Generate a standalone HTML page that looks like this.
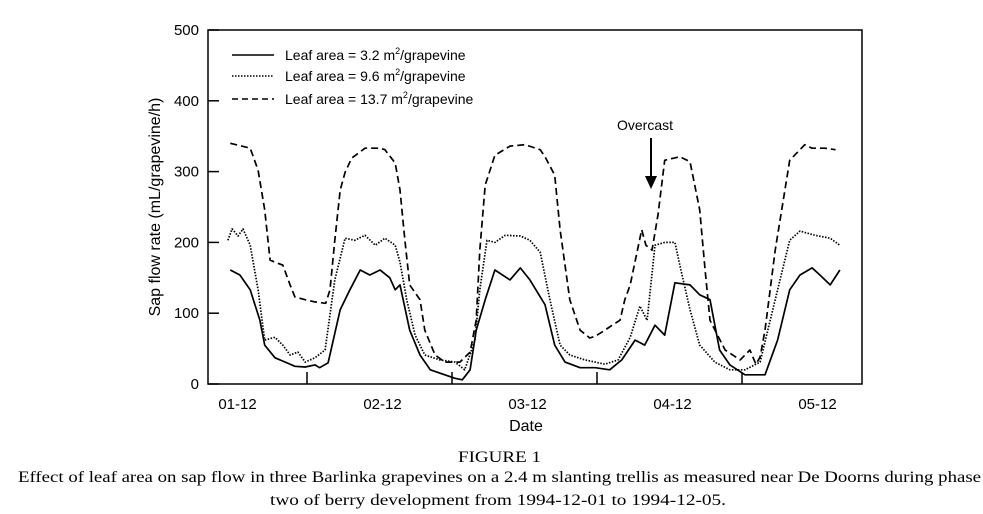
<!DOCTYPE html>
<html><head><meta charset="utf-8"><style>
body{margin:0;background:#fff;width:983px;height:514px;overflow:hidden}
svg{display:block}
.s{font-family:"Liberation Sans",sans-serif}
.c{font-family:"Liberation Serif",serif;font-size:16px}
</style></head><body>
<svg id="chart" width="983" height="514">
<rect x="208" y="30" width="654" height="354" fill="none" stroke="#000" stroke-width="1.5"/>
<g id="yaxis"></g>
<g id="xaxis"></g>
<g id="series"></g>
<text class="s" x="0" y="0" font-size="16" text-anchor="middle" transform="translate(160,207) rotate(-90)">Sap flow rate (mL/grapevine/h)</text>
<text class="s" x="526" y="431" font-size="16" text-anchor="middle">Date</text>
<g>
<g><line x1="232" y1="55" x2="274" y2="55" stroke="#000" stroke-width="1.6"/><text class="s" x="285" y="60" font-size="14">Leaf area = 3.2 m<tspan font-size="9" dy="-6">2</tspan><tspan dy="6">/grapevine</tspan></text></g>
<g><line x1="232" y1="76" x2="274" y2="76" stroke="#000" stroke-width="1.6" stroke-dasharray="1.5,1.5"/><text class="s" x="285" y="81" font-size="14">Leaf area = 9.6 m<tspan font-size="9" dy="-6">2</tspan><tspan dy="6">/grapevine</tspan></text></g>
<g><line x1="232" y1="99" x2="274" y2="99" stroke="#000" stroke-width="1.6" stroke-dasharray="6,4"/><text class="s" x="285" y="104" font-size="14">Leaf area = 13.7 m<tspan font-size="9" dy="-6">2</tspan><tspan dy="6">/grapevine</tspan></text></g>
</g>
<g>
<text class="s" x="645" y="130" font-size="14" text-anchor="middle">Overcast</text>
<line x1="651" y1="138" x2="651" y2="178" stroke="#000" stroke-width="2"/>
<polygon points="645,176 657,176 651,189" fill="#000"/>
</g>
<text class="c" x="458" y="462" textLength="83" lengthAdjust="spacingAndGlyphs">FIGURE 1</text>
<text class="c" x="18" y="482" textLength="963" lengthAdjust="spacingAndGlyphs">Effect of leaf area on sap flow in three Barlinka grapevines on a 2.4 m slanting trellis as measured near De Doorns during phase</text>
<text class="c" x="270" y="505" textLength="456" lengthAdjust="spacingAndGlyphs">two of berry development from 1994-12-01 to 1994-12-05.</text>
</svg>
<script>
const yTicks=[0,100,200,300,400,500];
const dayTicks=[24,48,72,96];
const dateLabels=["01-12","02-12","03-12","04-12","05-12"];
const labelHours=[12.5,36.5,60.5,84.5,108.5];
const hSolid=[11.3,12.9,14.6,16.2,17.0,18.7,20.4,22.0,23.7,25.3,26.1,27.5,29.5,31.1,32.8,34.4,36.1,37.7,38.6,39.4,41.0,42.7,44.4,46.8,48.5,49.7,51.0,52.0,53.5,55.1,57.6,59.3,60.9,63.4,65.0,66.7,69.2,71.7,74.1,76.1,78.3,79.9,81.6,83.2,84.9,87.4,89.0,90.7,92.3,94.0,96.5,99.8,101.9,103.9,105.6,107.6,108.9,110.6,112.2];
const vSolid=[161,154,133,90,55,37,31,25,24,27,23,30,105,133,161,154,161,150,133,140,76,41,20,13,8,6,20,76,119,161,147,164,147,112,55,31,23,23,20,34,62,55,83,69,143,140,126,119,48,27,13,13,62,133,154,164,154,140,161];
const hDot=[10.9,11.6,12.6,13.4,14.6,15.9,17.0,18.7,20.0,21.2,22.5,23.7,25.3,27.0,28.6,30.3,31.9,33.6,35.3,36.9,38.6,39.4,40.5,41.9,43.5,46.0,48.5,50.1,51.8,52.6,53.8,55.1,56.8,59.3,60.9,62.6,64.2,65.9,67.5,70.0,71.7,73.3,75.5,77.5,79.1,80.3,81.6,83.2,84.9,85.7,87.4,89.0,91.5,94.0,96.5,99.0,101.5,103.9,105.6,108.1,110.6,112.2];
const vDot=[203,219,209,219,196,133,62,66,55,41,45,31,37,48,147,206,203,210,196,206,196,172,119,69,41,34,31,20,62,133,203,200,210,209,203,186,119,55,41,34,31,28,34,66,110,90,196,200,200,168,105,55,31,20,20,31,119,203,216,210,206,196];
const hDash=[11.3,14.6,15.9,17.0,17.9,19.0,20.0,21.2,22.0,23.7,25.3,27.1,27.8,28.6,29.5,30.3,31.4,33.6,36.1,36.9,38.6,39.4,40.2,41.0,42.7,43.5,45.2,46.8,49.3,51.0,52.0,52.6,53.5,55.1,57.6,60.1,62.6,63.4,65.0,65.9,67.5,69.2,70.8,71.8,73.3,74.5,75.8,76.6,77.5,79.4,80.1,81.1,82.1,83.2,85.7,87.4,89.0,89.9,90.7,93.2,95.7,96.5,97.3,98.3,99.0,99.8,101.5,103.9,106.4,107.6,109.7,111.5];
const vDash=[340,333,302,246,175,171,168,140,123,119,116,114,133,203,274,299,319,333,333,331,312,274,203,140,119,76,41,31,31,45,90,189,281,323,336,338,331,321,295,218,119,76,65,68,76,83,90,119,140,218,196,189,239,316,321,314,246,161,90,48,34,41,48,28,38,76,189,316,338,333,333,331];

const NS="http://www.w3.org/2000/svg";
const X=h=>162+h*145/24;
const Y=v=>384-v*0.708;
function mk(tag,attrs,parent){const e=document.createElementNS(NS,tag);for(const k in attrs)e.setAttribute(k,attrs[k]);parent.appendChild(e);return e;}
const ya=document.getElementById('yaxis'),xa=document.getElementById('xaxis'),sg=document.getElementById('series');
yTicks.forEach(v=>{
  const t=mk('line',{x1:208,x2:219,y1:Y(v),y2:Y(v),stroke:'#000','stroke-width':1.5},ya);
  
  
  const l=mk('text',{x:199,y:Y(v)+5,'text-anchor':'end','font-size':15,class:'s'},ya);
  l.textContent=v;
  
  
});
dayTicks.forEach(h=>{
  const t=mk('line',{x1:X(h),x2:X(h),y1:384,y2:372,stroke:'#000','stroke-width':1.5},xa);
  
  
});
dateLabels.forEach((s,i)=>{
  const l=mk('text',{x:X(labelHours[i]),y:409,'text-anchor':'middle','font-size':15,class:'s'},xa);
  l.textContent=s;
  
  
});
function line(hs,vs,dash,name){
  const d=hs.map((h,i)=>(i?'L':'M')+X(h).toFixed(1)+','+Y(vs[i]).toFixed(1)).join('');
  const p=mk('path',{d:d,fill:'none',stroke:'#000','stroke-width':1.7,'stroke-linejoin':'round'},sg);
  if(dash)p.setAttribute('stroke-dasharray',dash);
  
  
}
line(hSolid,vSolid,null,'series-3-2-line');
line(hDot,vDot,'1.5,1.5','series-9-6-line');
line(hDash,vDash,'7,4','series-13-7-line');
</script>
</body></html>
